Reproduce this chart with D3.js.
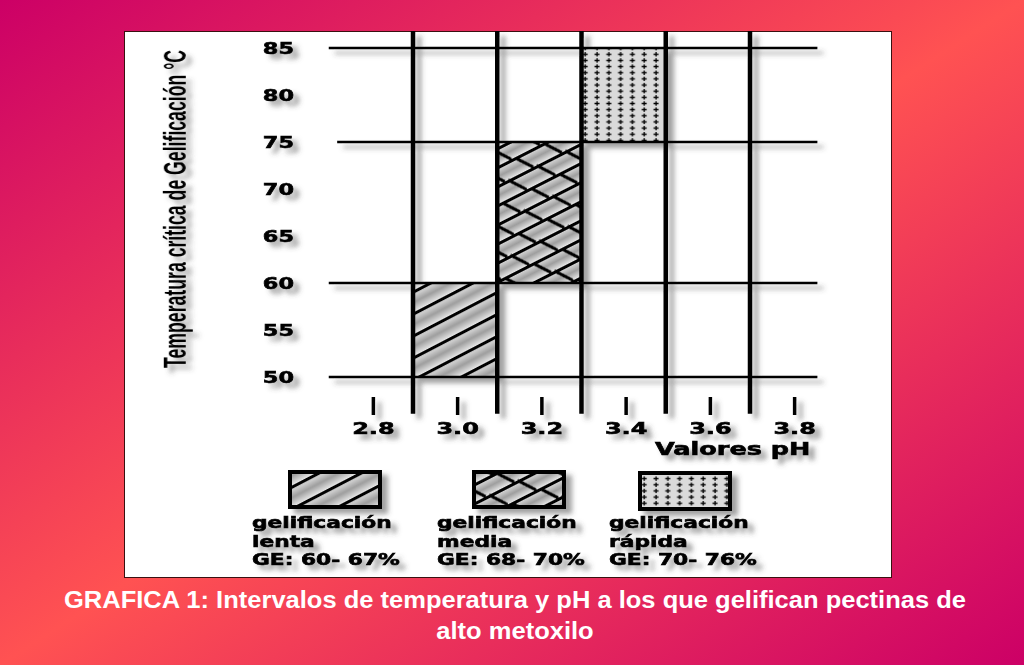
<!DOCTYPE html>
<html>
<head>
<meta charset="utf-8">
<script src="https://cdn.jsdelivr.net/npm/d3@7"></script>
<style>
body{margin:0;overflow:hidden}
svg{display:block}
</style>
</head>
<body>
<script>
// datos
const tempTicks = [50,55,60,65,70,75,80,85];
const tempLines = [50,60,75,85];
const lineFrom  = [2.70,2.70,2.72,2.70];
const phTicks   = [2.8,3.0,3.2,3.4,3.6,3.8];
const phLines   = [2.9,3.1,3.3,3.5,3.7];

const tipos     = ["lenta","media","rápida"];
const phDesde   = [2.9,3.1,3.3];
const phHasta   = [3.1,3.3,3.5];
const tempDesde = [50,60,75];
const tempHasta = [60,75,85];
const geTextos  = ["GE: 60- 67%","GE: 68- 70%","GE: 70- 76%"];
const titulo    = ["GRAFICA 1: Intervalos de temperatura y pH a los que gelifican pectinas de","alto metoxilo"];

const W = 1024, H = 665;
const svg = d3.select("body").append("svg").attr("width",W).attr("height",H);
const defs = svg.append("defs");

// fondo diagonal
const bg = defs.append("linearGradient").attr("id","fondo")
  .attr("x1",0).attr("y1",0).attr("x2",1).attr("y2",1);
bg.append("stop").attr("offset","0%").attr("stop-color","#cc0066");
bg.append("stop").attr("offset","50%").attr("stop-color","#ff5252");
bg.append("stop").attr("offset","100%").attr("stop-color","#cc0066");

// sombra gris de todo el grafico
defs.append("filter").attr("id","sombra")
  .attr("x","-5%").attr("y","-5%").attr("width","115%").attr("height","115%")
  .append("feDropShadow")
  .attr("dx",6).attr("dy",5).attr("stdDeviation",2.5)
  .attr("flood-color","#444").attr("flood-opacity",0.5);

// degradado de las bandas grises
const banda = defs.append("linearGradient").attr("id","banda")
  .attr("x1",0).attr("y1",0).attr("x2",0).attr("y2",1);
banda.append("stop").attr("offset","0%").attr("stop-color","#ececec");
banda.append("stop").attr("offset","55%").attr("stop-color","#9e9e9e");
banda.append("stop").attr("offset","100%").attr("stop-color","#e6e6e6");

// trama lenta: rayas "/"
const pLenta = defs.append("pattern").attr("id","p-lenta")
  .attr("patternUnits","userSpaceOnUse").attr("width",40).attr("height",19.5)
  .attr("patternTransform","rotate(-27.5)");
pLenta.append("rect").attr("width",40).attr("height",19.5).attr("fill","url(#banda)");
pLenta.append("rect").attr("width",40).attr("height",3).attr("fill","#000");

// trama media: ladrillos cruzados
const pMedia = defs.append("pattern").attr("id","p-media")
  .attr("patternUnits","userSpaceOnUse").attr("width",32).attr("height",34)
  .attr("patternTransform","rotate(-27)");
pMedia.append("rect").attr("width",32).attr("height",17).attr("fill","url(#banda)");
pMedia.append("rect").attr("y",17).attr("width",32).attr("height",17).attr("fill","url(#banda)");
pMedia.append("rect").attr("width",32).attr("height",3).attr("fill","#000");
pMedia.append("rect").attr("y",17).attr("width",32).attr("height",3).attr("fill","#000");
pMedia.append("line").attr("x1",3).attr("y1",0).attr("x2",15.3).attr("y2",17)
  .attr("stroke","#000").attr("stroke-width",3);
pMedia.append("line").attr("x1",19).attr("y1",17).attr("x2",31.3).attr("y2",34)
  .attr("stroke","#000").attr("stroke-width",3);

// trama rapida: cruces
const pRapida = defs.append("pattern").attr("id","p-rapida")
  .attr("patternUnits","userSpaceOnUse").attr("width",11.8).attr("height",6.15)
  .attr("x",2).attr("y",2);
pRapida.append("rect").attr("width",11.8).attr("height",6.15).attr("fill","#dadada");
pRapida.append("rect").attr("x",2.5).attr("y",2.4).attr("width",5).attr("height",1.4).attr("fill","#000");
pRapida.append("rect").attr("x",4.4).attr("y",0.9).attr("width",1.3).attr("height",4.4).attr("fill","#000");

const tramas = ["url(#p-lenta)","url(#p-media)","url(#p-rapida)"];

svg.append("rect").attr("width",W).attr("height",H).attr("fill","url(#fondo)");

// panel blanco
svg.append("rect").attr("x",124.5).attr("y",31.5).attr("width",767).attr("height",546)
  .attr("fill","#fff").attr("stroke","#3a1010").attr("stroke-width",1);

// ensancha el texto como en el original
const ancho = (sel,k) => sel.each(function(){
  const w = this.getComputedTextLength();
  d3.select(this).attr("textLength",w*k).attr("lengthAdjust","spacingAndGlyphs");
});

const x = d3.scaleLinear().domain([2.9,3.7]).range([413,750]);
const y = d3.scaleLinear().domain([50,85]).range([377,48]);

const g = svg.append("g").attr("filter","url(#sombra)");

// zonas de gelificacion
g.selectAll("rect.zona").data(tipos).enter().append("rect")
  .attr("class","zona")
  .attr("x",(d,i)=>x(phDesde[i]))
  .attr("y",(d,i)=>y(tempHasta[i]))
  .attr("width",(d,i)=>x(phHasta[i])-x(phDesde[i]))
  .attr("height",(d,i)=>y(tempDesde[i])-y(tempHasta[i]))
  .attr("fill",(d,i)=>tramas[i]);

// rejilla
g.selectAll("line.h").data(tempLines).enter().append("line")
  .attr("x1",(d,i)=>x(lineFrom[i])).attr("x2",x(3.86))
  .attr("y1",d=>y(d)).attr("y2",d=>y(d))
  .attr("stroke","#000").attr("stroke-width",2.6);

g.selectAll("line.v").data(phLines).enter().append("line")
  .attr("x1",d=>x(d)).attr("x2",d=>x(d))
  .attr("y1",y(86.8)).attr("y2",y(46.1))
  .attr("stroke","#000").attr("stroke-width",4.5);

// texto grueso tipo pixel
const grueso = sel => sel.attr("font-family","DejaVu Sans").attr("font-weight","bold")
  .attr("fill","#000").attr("stroke","#000").attr("stroke-width",0.6);

// eje y
const ejeY = g.append("g").attr("transform","translate(294,0)")
  .call(d3.axisLeft(y).tickValues(tempTicks).tickSize(0).tickPadding(0));
ejeY.select(".domain").remove();
ejeY.selectAll("text").call(grueso).attr("font-size",16).call(ancho,1.4);

// eje x
const ejeX = g.append("g").attr("transform","translate(2,397)")
  .call(d3.axisBottom(x).tickValues(phTicks).tickSize(18).tickPadding(8).tickFormat(d3.format(".1f")));
ejeX.select(".domain").remove();
ejeX.selectAll("line").attr("stroke","#000").attr("stroke-width",3.5);
ejeX.selectAll("text").call(grueso).attr("font-size",16).call(ancho,1.5);

g.append("text").attr("x",655).attr("y",455).call(grueso).attr("font-size",17)
  .text("Valores pH").call(ancho,1.5);

// titulo del eje y: letra estrecha y alta
const tituloY = g.append("text").attr("transform","translate(186,209) rotate(-90) scale(1,2.1)")
  .attr("text-anchor","middle")
  .attr("font-family","Liberation Sans")
  .attr("font-weight","bold").attr("font-size",14.5)
  .text("Temperatura crítica de Gelificación °C");
tituloY.attr("textLength",318).attr("lengthAdjust","spacingAndGlyphs");

// leyenda
const colTexto = [252,437,609];
const colCaja  = [290,474,640];
const ley = g.selectAll("g.ley").data(tipos).enter().append("g").attr("class","ley");
ley.append("rect")
  .attr("x",(d,i)=>colCaja[i]).attr("y",(d,i)=>i===2?473:472)
  .attr("width",90).attr("height",(d,i)=>i===2?36:35)
  .attr("fill",(d,i)=>tramas[i]).attr("stroke","#000").attr("stroke-width",4);
const lineas = (d,i)=>["gelificación",d,geTextos[i]];
ley.each(function(d,i){
  d3.select(this).selectAll("text").data(lineas(d,i)).enter().append("text")
    .attr("x",colTexto[i]).attr("y",(t,j)=>528+j*18.5)
    .call(grueso).attr("font-size",15)
    .text(t=>t).call(ancho,1.45);
});

// titulo
const tit = svg.selectAll("text.tit").data(titulo).enter().append("text")
  .attr("class","tit")
  .attr("x",515).attr("y",(d,i)=>608+i*31)
  .attr("text-anchor","middle").attr("fill","#fff")
  .attr("font-family","Liberation Sans Narrow, Liberation Sans, sans-serif")
  .attr("font-weight","bold").attr("font-size",24)
  .text(d=>d);
const k = 902/tit.node().getComputedTextLength();
tit.call(ancho,k);
</script>
</body>
</html>
